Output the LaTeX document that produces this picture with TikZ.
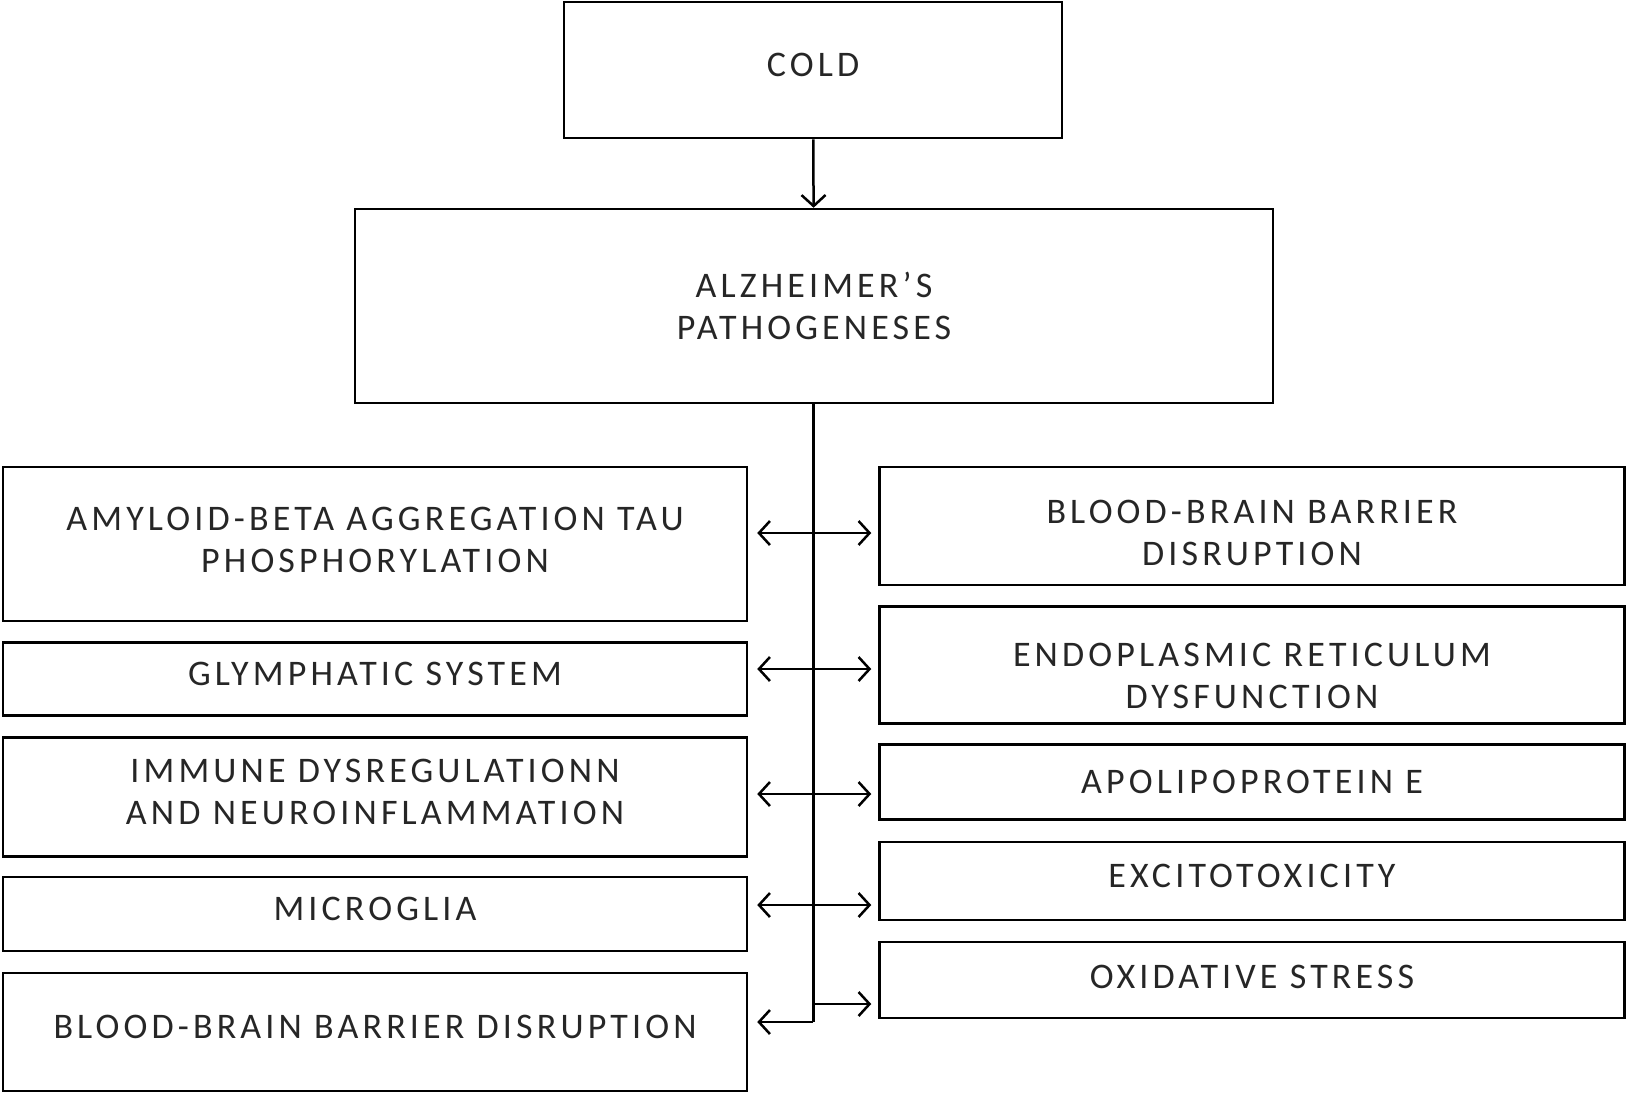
\documentclass[tikz,border=0pt]{standalone}
\usepackage{fontspec}
\setmainfont{Carlito}[LetterSpace=11.5]
\usetikzlibrary{arrows.meta,positioning,calc}

\begin{document}
\begin{tikzpicture}[
    x=1pt, y=-1pt,
    box/.style={rectangle, draw, line width=2.5pt, align=center, text=black!85,
        font=\fontsize{36}{42}\selectfont, inner sep=0pt},
    oneline/.style={text depth=11pt},
    leftbox/.style={box, minimum width=744pt},
    rightbox/.style={box, minimum width=745pt},
    link/.style={line width=2.5pt, shorten <=9pt, shorten >=7pt,
        {Straight Barb[length=11pt,width=24pt,line width=2.5pt]}-{Straight Barb[length=11pt,width=24pt,line width=2.5pt]}},
    single/.style={line width=2.5pt, -{Straight Barb[length=11pt,width=24pt,line width=2.5pt]}},
]
\useasboundingbox (0,0) rectangle (1628,1096);

\node[box, oneline, minimum width=498pt, minimum height=136pt] (cold) at (813,70) {COLD};
\node[box, minimum width=918pt, minimum height=194pt] (alz) at (814,306) {ALZHEIMER’S\\PATHOGENESES};

% left column
\node[leftbox, text depth=8pt, minimum height=154pt] (amyloid) at (375,544) {AMYLOID-BETA AGGREGATION TAU\\PHOSPHORYLATION};
\node[leftbox, oneline, minimum height=73pt] (glymph) at (375,679) {GLYMPHATIC SYSTEM};
\node[leftbox, text depth=10pt, minimum height=119pt] (immune) at (375,797) {IMMUNE DYSREGULATIONN\\AND NEUROINFLAMMATION};
\node[leftbox, oneline, minimum height=74pt] (microglia) at (375,914) {MICROGLIA};
\node[leftbox, oneline, minimum height=118pt] (bbbleft) at (375,1032) {BLOOD-BRAIN BARRIER DISRUPTION};

% right column
\node[rightbox, text height=79pt, minimum height=118pt] (bbbright) at (1252,526) {BLOOD-BRAIN BARRIER\\DISRUPTION};
\node[rightbox, text height=87pt, minimum height=117pt] (er) at (1252,665) {ENDOPLASMIC RETICULUM\\DYSFUNCTION};
\node[rightbox, minimum height=75pt] (apoe) at (1252,782) {APOLIPOPROTEIN E};
\node[rightbox, oneline, minimum height=78pt] (excito) at (1252,881) {EXCITOTOXICITY};
\node[rightbox, text depth=6pt, minimum height=76pt] (oxid) at (1252,980) {OXIDATIVE STRESS};

\coordinate (trunkend) at (813,1022);

\draw[single] (cold) -- (alz);
\draw[line width=3pt] (alz.south -| trunkend) -- (trunkend);

% links to both columns
\draw[link] (amyloid.east |- 0,533) -- (bbbright.west |- 0,533);
\draw[link] (glymph.east |- 0,669) -- (er.west |- 0,669);
\draw[link] (immune.east |- 0,794) -- (apoe.west |- 0,794);
\draw[link] (microglia.east |- 0,905) -- (excito.west |- 0,905);
\draw[single, shorten >=9pt] (trunkend) -- (bbbleft.east |- trunkend);
\draw[single, shorten >=7pt] (trunkend |- 0,1004) -- (oxid.west |- 0,1004);

\end{tikzpicture}
\end{document}
